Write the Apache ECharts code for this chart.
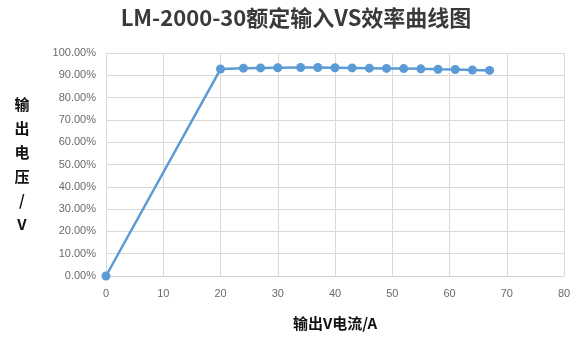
<!DOCTYPE html>
<html>
<head>
<meta charset="utf-8">
<script src="https://cdn.jsdelivr.net/npm/echarts@6/dist/echarts.min.js"></script>
<style>
html,body{margin:0;padding:0;background:#fff;}
#chart{width:580px;height:338px;}
</style>
</head>
<body>
<div id="chart"></div>
<script>
// Output current (A) and efficiency (%) at rated input
const currentA = [0, 20, 24, 27, 30, 34, 37, 40, 43, 46, 49, 52, 55, 58, 61, 64, 67];
const efficiency = [0, 92.8, 93.2, 93.3, 93.4, 93.5, 93.5, 93.4, 93.3, 93.2, 93.1, 93.0, 92.9, 92.7, 92.6, 92.4, 92.2];
const titleText = 'LM-2000-30额定输入VS效率曲线图';
const xName = '输出V电流/A';
const yName = '输出电压/V';

const chart = echarts.init(document.getElementById('chart'));
const cjk = '"Noto Sans CJK SC", "Noto Sans", sans-serif';
chart.setOption({
  animation: false,
  backgroundColor: '#ffffff',
  title: {
    text: titleText,
    left: 291,
    textAlign: 'center',
    top: 2,
    textStyle: { fontFamily: cjk, fontSize: 22, fontWeight: 'bold', color: '#3a3a3a' }
  },
  grid: { left: 106, right: 16, top: 53, bottom: 62 },
  xAxis: {
    type: 'value',
    min: 0, max: 80, interval: 10,
    name: xName,
    nameLocation: 'middle',
    nameGap: 40,
    nameTextStyle: { fontFamily: cjk, fontSize: 15, fontWeight: 'bold', color: '#111' },
    axisLine: { lineStyle: { color: '#d0d0d0' } },
    axisTick: { show: false },
    axisLabel: { color: '#6a6a6a', fontSize: 11, fontFamily: 'Arial, "Liberation Sans", sans-serif', margin: 12 },
    splitLine: { show: true, lineStyle: { color: '#d9d9d9' } }
  },
  yAxis: {
    type: 'value',
    min: 0, max: 100, interval: 10,
    name: yName.split('').join('\n'),
    nameLocation: 'middle',
    nameRotate: 0,
    nameGap: 84,
    nameTextStyle: { fontFamily: cjk, fontSize: 15, fontWeight: 'bold', color: '#111', lineHeight: 24, align: 'center' },
    axisLine: { show: true, lineStyle: { color: '#d9d9d9' } },
    axisTick: { show: false },
    axisLabel: {
      color: '#6a6a6a', fontSize: 11, fontFamily: 'Arial, "Liberation Sans", sans-serif', margin: 10,
      formatter: v => v.toFixed(2) + '%'
    },
    splitLine: { lineStyle: { color: '#d9d9d9' } }
  },
  series: [{
    type: 'line',
    data: currentA.map((x, i) => [x, efficiency[i]]),
    symbol: 'circle',
    symbolSize: 9,
    lineStyle: { color: '#5b9bd5', width: 2.5 },
    itemStyle: { color: '#5b9bd5' }
  }]
});
</script>
</body>
</html>
